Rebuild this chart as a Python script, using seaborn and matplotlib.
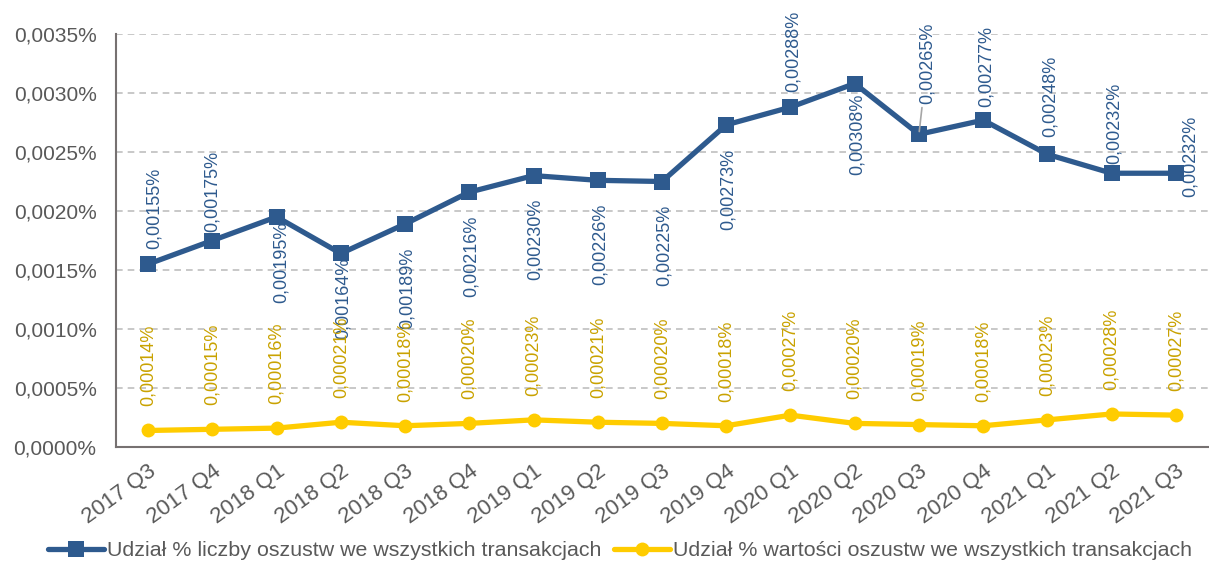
import matplotlib
matplotlib.use("Agg")
import matplotlib.pyplot as plt
import seaborn as sns
import pandas as pd
from matplotlib.ticker import FuncFormatter, MultipleLocator

quarters = ["2017 Q3", "2017 Q4", "2018 Q1", "2018 Q2", "2018 Q3", "2018 Q4",
            "2019 Q1", "2019 Q2", "2019 Q3", "2019 Q4", "2020 Q1", "2020 Q2",
            "2020 Q3", "2020 Q4", "2021 Q1", "2021 Q2", "2021 Q3"]
count_share = [0.00155, 0.00175, 0.00195, 0.00164, 0.00189, 0.00216, 0.00230,
               0.00226, 0.00225, 0.00273, 0.00288, 0.00308, 0.00265, 0.00277,
               0.00248, 0.00232, 0.00232]
value_share = [0.00014, 0.00015, 0.00016, 0.00021, 0.00018, 0.00020, 0.00023,
               0.00021, 0.00020, 0.00018, 0.00027, 0.00020, 0.00019, 0.00018,
               0.00023, 0.00028, 0.00027]
series_names = ["Udział % liczby oszustw we wszystkich transakcjach",
                "Udział % wartości oszustw we wszystkich transakcjach"]

# label placement (pixel offsets from point: dx, dy, vertical anchor)
blue_offsets = [(6, 15, "bottom"), (0, 9, "bottom"), (5, -5, "top"), (2, -4, "top"),
                (2, -24, "top"), (2, -24, "top"), (2, -23, "top"), (2, -23, "top"),
                (2, -23, "top"), (2, -24, "top"), (3, 15, "bottom"), (3, -10, "top"),
                (8, 30, "bottom"), (3, 13, "bottom"), (3, 17, "bottom"), (3, 9, "bottom"),
                (14, 17, "center")]

BLUE = "#2E5A8E"
YELLOW = "#FFCC00"
YELLOW_TXT = "#C9A200"
GRAY_TXT = "#595959"

sns.set_theme(style="white")
plt.rcParams["font.family"] = ["Liberation Sans", "DejaVu Sans"]

df = pd.DataFrame({"q": quarters, "a": count_share, "b": value_share})

fig = plt.figure(figsize=(12.09, 5.65), dpi=100)
ax = fig.add_axes([116 / 1209, 1 - 447 / 565, (1208 - 116) / 1209, (447 - 34) / 565])

sns.lineplot(data=df, x="q", y="a", ax=ax, color=BLUE, lw=3.8, marker="s",
             markersize=11, markeredgewidth=0, label=series_names[0], sort=False)
sns.lineplot(data=df, x="q", y="b", ax=ax, color=YELLOW, lw=3.8, marker="o",
             markersize=10, markeredgewidth=0, label=series_names[1], sort=False)

ax.set_xlim(-0.5, len(quarters) - 0.5)
ax.set_ylim(0, 0.0035)
ax.yaxis.set_major_locator(MultipleLocator(0.0005))
ax.yaxis.set_major_formatter(FuncFormatter(lambda v, p: f"{v:.4f}%".replace(".", ",")))
ax.grid(axis="y", color="#BFBFBF", linestyle=(0, (4, 3)), linewidth=1.2)
ax.set_axisbelow(True)
ax.set_xlabel("")
ax.set_ylabel("")
for s in ["top", "right"]:
    ax.spines[s].set_visible(False)
for s in ["left", "bottom"]:
    ax.spines[s].set_color("#767171")
    ax.spines[s].set_linewidth(1.5)

ax.tick_params(axis="y", labelsize=15, labelcolor=GRAY_TXT, length=0, pad=14)
ax.tick_params(axis="x", labelsize=16, labelcolor=GRAY_TXT, length=0, pad=10)
for lab in ax.get_xticklabels():
    lab.set_rotation(36)
    lab.set_ha("right")
    lab.set_rotation_mode("anchor")

def fmt(v):
    return f"{v:.5f}%".replace(".", ",")

for i, (v, (dx, dy, va)) in enumerate(zip(count_share, blue_offsets)):
    kw = {}
    if i == 12:
        kw["arrowprops"] = dict(arrowstyle="-", color="#A6A6A6", lw=1.2, shrinkA=0, shrinkB=2)
    ax.annotate(fmt(v), (i, v), xytext=(dx, dy), textcoords="offset pixels",
                rotation=90, ha="center", va=va, fontsize=13, color=BLUE, **kw)

for i, v in enumerate(value_share):
    ax.annotate(fmt(v), (i, v), xytext=(0, 24), textcoords="offset pixels",
                rotation=90, ha="center", va="bottom", fontsize=13, color=YELLOW_TXT)

leg = ax.legend(loc="center", bbox_to_anchor=(620 / 1209, (565 - 551) / 565), bbox_transform=fig.transFigure,
                ncol=2, frameon=False, fontsize=15.4, handlelength=2.6, handletextpad=0.15,
                columnspacing=0.6, labelcolor=GRAY_TXT)

fig.savefig("out.png", dpi=100)
